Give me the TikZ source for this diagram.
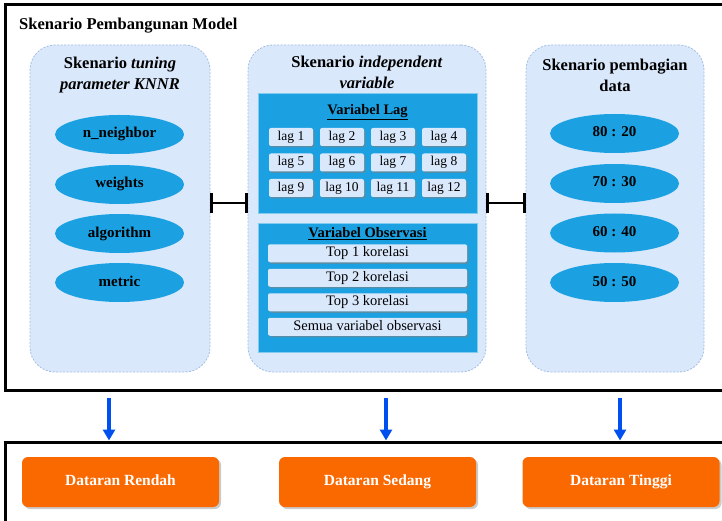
\documentclass[tikz,border=0pt]{standalone}
\usepackage{fontspec}
\setmainfont{Liberation Serif}[BoldFont={Liberation Serif Bold},
  ItalicFont={Liberation Serif Italic},BoldItalicFont={Liberation Serif Bold Italic}]
\usetikzlibrary{matrix,arrows.meta,shadows,shapes.geometric}

\definecolor{panelbiru}{HTML}{DAE8FC}
\definecolor{garisbiru}{HTML}{A3BDE3}
\definecolor{biru}{HTML}{1BA1E2}
\definecolor{oranye}{HTML}{FA6800}
\definecolor{panahbiru}{HTML}{0050EF}

\begin{document}
\begin{tikzpicture}[x=1pt,y=-1pt,
    bingkai/.style={draw,fill=white,line width=3pt,minimum width=725pt,inner sep=0pt,
      drop shadow={shadow xshift=2pt,shadow yshift=-2pt,fill=black!25}},
    panel/.style={draw=garisbiru,dash pattern=on 2pt off 1.5pt,line width=0.8pt,
      fill=panelbiru,rounded corners=25pt,minimum height=327pt,inner sep=0pt},
    judul/.style={font=\bfseries\fontsize{16.5}{21}\selectfont,align=center},
    elips/.style={ellipse,fill=biru,minimum width=129pt,minimum height=39pt,
      inner sep=0pt,text height=0.9em,text depth=0.2em,
      font=\bfseries\fontsize{15}{18}\selectfont},
    kotak/.style={fill=biru,draw=biru!55!white,line width=0.8pt,minimum width=219pt,
      inner sep=0pt},
    subjudul/.style={font=\bfseries\fontsize{14.5}{17}\selectfont},
    tombol/.style={fill=panelbiru,rounded corners=2pt,minimum height=18pt,inner sep=0pt,
      text height=0.9em,text depth=0.2em,
      drop shadow={shadow xshift=1.5pt,shadow yshift=-1.5pt,fill=black!50,opacity=0.6}},
    hasil/.style={fill=oranye,rounded corners=6pt,minimum width=197pt,minimum height=50pt,
      text height=0.9em,text depth=0.2em,
      text=white,font=\bfseries\fontsize{15.5}{18}\selectfont,
      drop shadow={shadow xshift=2pt,shadow yshift=-2pt,fill=black!40,opacity=0.5}}]

    \useasboundingbox (0,0) rectangle (722,521);

    \node[bingkai,minimum height=385pt] (atas) at (367.5,197.5) {};
    \node[bingkai,minimum height=88pt] (bawah) at (367.5,486) {};
    \node[judul,anchor=west,inner sep=0pt] (judulutama) at (19,26)
      {Skenario Pembangunan Model};

    \node[panel,minimum width=180pt] (kiri) at (120,208.5) {};
    \node[panel,minimum width=238pt] (tengah) at (367,208.5) {};
    \node[panel,minimum width=178pt] (kanan) at (615,208.5) {};

    \node[judul] (judulkiri) at (120,75.5)
      {Skenario \textit{tuning}\\ \textit{parameter KNNR}};
    \node[judul] (judultengah) at (367,72.5)
      {Skenario \textit{independent}\\ \textit{variable}};
    \node[judul] (judulkanan) at (615,75)
      {Skenario pembagian\\ data};

    \node[elips] (nneighbor) at (119.5,134.5) {n\_neighbor};
    \node[elips] (weights) at (119.5,184.5) {weights};
    \node[elips] (algorithm) at (119.5,233.5) {algorithm};
    \node[elips] (metric) at (119.5,282.5) {metric};

    \node[elips] (bagi1) at (614.5,133.5) {80 : 20};
    \node[elips] (bagi2) at (614.5,183.5) {70 : 30};
    \node[elips] (bagi3) at (614.5,233) {60 : 40};
    \node[elips] (bagi4) at (614.5,282.5) {50 : 50};

    \node[kotak,minimum height=120pt] (kotaklag) at (367.5,153) {};
    \node[subjudul] (judullag) at (367.5,112) {\underline{Variabel Lag}};
    \matrix (lag) [matrix of nodes,column sep=7pt,row sep=7.5pt,
      nodes={tombol,minimum width=44pt,font=\fontsize{13.5}{16}\selectfont}]
      at (367.5,162.5) {
      lag 1 & lag 2 & lag 3 & lag 4\\
      lag 5 & lag 6 & lag 7 & lag 8\\
      lag 9 & lag 10 & lag 11 & lag 12\\};

    \node[kotak,minimum height=129pt] (kotakobs) at (367.5,287.5) {};
    \node[subjudul] (judulobs) at (367.5,234) {\underline{Variabel Observasi}};
    \matrix (obs) [matrix of nodes,row sep=6.5pt,
      nodes={tombol,minimum width=199pt,font=\fontsize{14.5}{17}\selectfont}]
      at (367.5,290) {
      Top 1 korelasi\\
      Top 2 korelasi\\
      Top 3 korelasi\\
      Semua variabel observasi\\};

    \path[{Bar[width=20pt]}-{Bar[width=20pt]},line width=2.5pt]
      ([yshift=5.5pt]kiri.east) edge ([yshift=5.5pt]tengah.west)
      ([yshift=5.5pt]tengah.east) edge ([yshift=5.5pt]kanan.west);

    \coordinate (panah1) at (109,0);
    \coordinate (panah2) at (386,0);
    \coordinate (panah3) at (620,0);
    \path[-{Triangle[width=12pt,length=11pt]},line width=3.5pt,color=panahbiru,
      shorten <=6.5pt]
      (atas.south -| panah1) edge (bawah.north -| panah1)
      (atas.south -| panah2) edge (bawah.north -| panah2)
      (atas.south -| panah3) edge (bawah.north -| panah3);

    \node[hasil] (rendah) at (120.5,482) {Dataran Rendah};
    \node[hasil] (sedang) at (377.5,482) {Dataran Sedang};
    \node[hasil] (tinggi) at (621,482) {Dataran Tinggi};
\end{tikzpicture}
\end{document}
